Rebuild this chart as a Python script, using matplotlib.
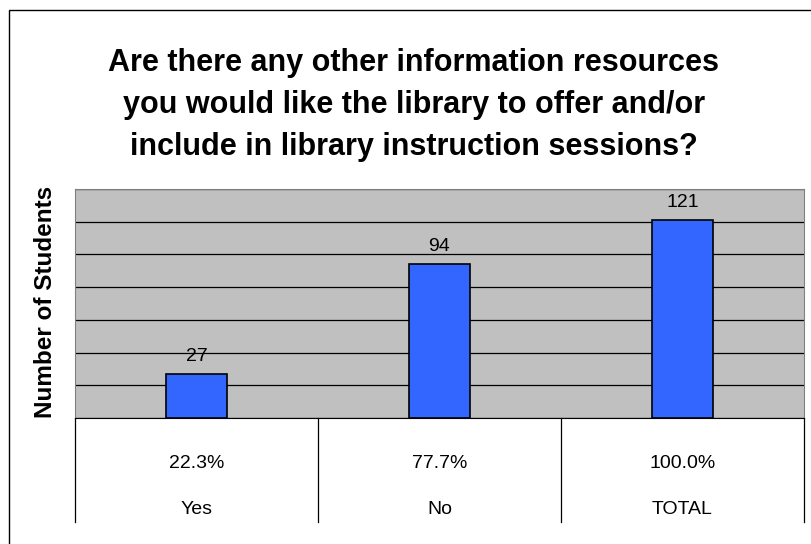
import matplotlib
matplotlib.use('Agg')
import matplotlib.pyplot as plt
from matplotlib.patches import Rectangle
import numpy as np

plt.rcParams['font.family'] = ['Liberation Sans', 'DejaVu Sans']

categories = ['Yes', 'No', 'TOTAL']
students = [27, 94, 121]
total = 121
percents = ['%.1f%%' % (100.0 * s / total) for s in students]

W, H = 812, 544
fig = plt.figure(figsize=(W / 100, H / 100), dpi=100)

# plot area in pixel terms
left, right, top, bottom = 75, 804, 189, 418
ax = fig.add_axes([left / W, 1 - bottom / H, (right - left) / W, (bottom - top) / H])
ax.set_facecolor('#C0C0C0')

x = np.arange(len(categories))
bars = ax.bar(x, students, 0.25, color='#3366FF', edgecolor='black', linewidth=1.2, zorder=3)
ax.set_xlim(-0.5, len(categories) - 0.5)
ax.set_ylim(0, 140)
ax.set_yticks(np.arange(0, 141, 20))
ax.yaxis.grid(True, color='black', linewidth=0.9)
ax.set_axisbelow(True)
ax.tick_params(left=False, bottom=False, labelleft=False, labelbottom=False)
for s in ['top', 'left', 'right']:
    ax.spines[s].set_color('#808080')
ax.spines['bottom'].set_color('black')

for b, v in zip(bars, students):
    ax.annotate(str(v), (b.get_x() + b.get_width() / 2, v), xytext=(0, 9.5),
                textcoords='offset points', ha='center', va='baseline', fontsize=14,
                zorder=4)

# data table under the bars
tr = ax.get_xaxis_transform()
ph = bottom - top
tbl_bottom = (bottom - 522) / ph
for xv in np.arange(-0.5, len(categories), 1.0):
    ax.plot([xv, xv], [0, tbl_bottom], transform=tr, color='black', lw=0.9, clip_on=False)
for i, (p, c) in enumerate(zip(percents, categories)):
    ax.text(i, (bottom - 463) / ph, p, transform=tr, ha='center', va='center', fontsize=14)
    ax.text(i, (bottom - 509) / ph, c, transform=tr, ha='center', va='center', fontsize=14)

fig.text(414 / W, 1 - 105 / H,
         'Are there any other information resources\nyou would like the library to offer and/or\ninclude in library instruction sessions?',
         ha='center', va='center', fontsize=22, fontweight='bold', linespacing=1.5)
fig.text(46 / W, 1 - 302 / H, 'Number of Students', rotation=90, ha='center', va='center',
         fontsize=17.5, fontweight='bold')

# chart border
fig.patches.append(Rectangle((9 / W, -0.1), 1.2, 1 - 10 / H + 0.1, transform=fig.transFigure,
                             fill=False, edgecolor='black', linewidth=1))

fig.savefig('out.png', dpi=100)
